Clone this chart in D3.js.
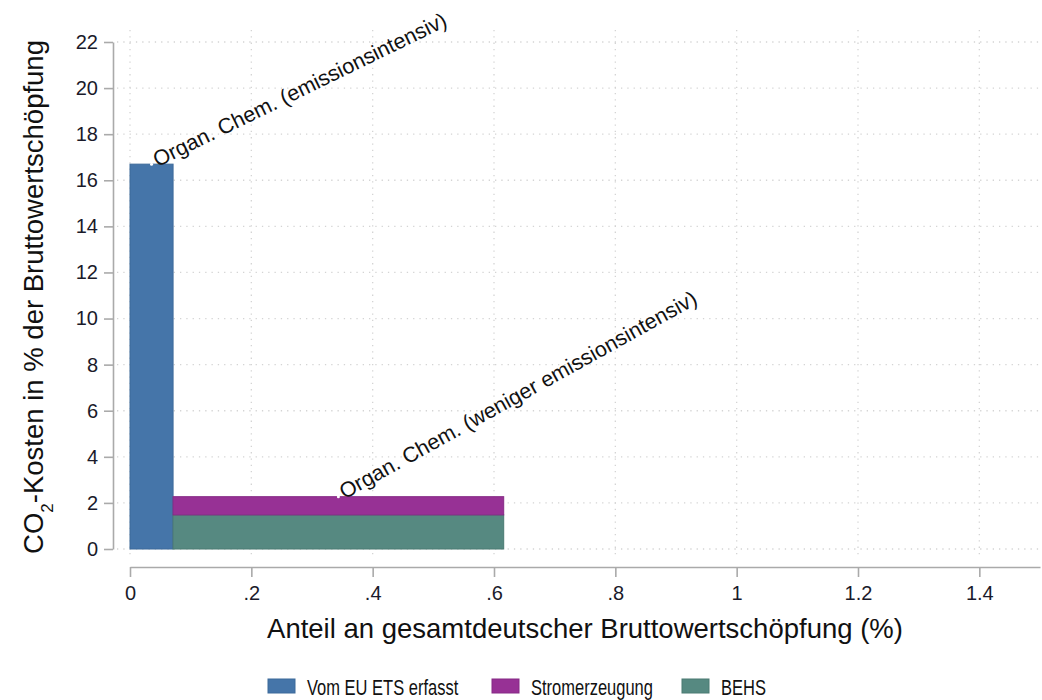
<!DOCTYPE html>
<html>
<head>
<meta charset="utf-8">
<script src="https://cdn.jsdelivr.net/npm/d3@7"></script>
<style>
  body { margin: 0; background: #fff; }
  svg { display: block; font-family: "Liberation Sans", Arial, sans-serif; }
  .grid line { stroke: #d4d4d4; stroke-width: 1.3; stroke-dasharray: 1.3 5; }
  .axis path, .axis line { stroke: #aaaaaa; stroke-width: 1.6; }
  .axis text { fill: #1a1a2a; font-size: 20px; }
  .bar-label { font-size: 21.5px; fill: #111; }
  .legend-label { font-size: 22px; fill: #111; }
</style>
</head>
<body>
<svg id="chart" width="1042" height="700"></svg>
<script>
// Sektoren (Breite = Anteil an der BWS, Höhe = CO2-Kosten in % der BWS)
var sectors = ["Organ. Chem. (emissionsintensiv)", "Organ. Chem. (weniger emissionsintensiv)"]
var shares = [0.071, 0.545]
var etsCost = [16.7, 0]
var behsCost = [0, 1.48]
var stromCost = [0, 0.79]

var seriesNames = ["Vom EU ETS erfasst", "Stromerzeugung", "BEHS"]
var seriesColors = ["#4575a9", "#973195", "#568981"]
var seriesStroke = ["#3d6a9a", "#862a85", "#4b7a72"]

var yTicks = [0, 2, 4, 6, 8, 10, 12, 14, 16, 18, 20, 22]
var xTicks = [0, 0.2, 0.4, 0.6, 0.8, 1, 1.2, 1.4]

// label angles as drawn in the original
const LABEL_ANGLE = [-26, -29]

var svg = d3.select("#chart")

var x = d3.scaleLinear().domain([0, 1.5]).range([130, 1040])
var y = d3.scaleLinear().domain([0, 22]).range([549, 42])

// bar positions from cumulative shares
var ends = Array.from(d3.cumsum(shares))
var bars = sectors.map(function(s, i) {
    return {
        name: s,
        x0: ends[i] - shares[i],
        x1: ends[i],
        ets: etsCost[i],
        behs: behsCost[i],
        strom: stromCost[i],
        total: etsCost[i] + behsCost[i] + stromCost[i]
    }
})

var fmt = function(d) {
    if (d === 0) return "0"
    var s = d3.format("")(+d.toFixed(1))
    return s.replace(/^0\./, ".")
}

// gridlines
var grid = svg.append("g").attr("class", "grid")
grid.selectAll(".h").data(yTicks).enter()
    .append("line")
    .attr("x1", 117).attr("x2", 1040)
    .attr("y1", d => y(d)).attr("y2", d => y(d))
grid.selectAll(".v").data(xTicks).enter()
    .append("line")
    .attr("y1", 30).attr("y2", 557)
    .attr("x1", d => x(d)).attr("x2", d => x(d))

// stacked segments: ETS, BEHS, Strom
var layers = [
    { key: "ets", color: 0 },
    { key: "behs", color: 2 },
    { key: "strom", color: 1 }
]
var segs = []
bars.forEach(function(b) {
    var base = 0
    layers.forEach(function(l) {
        if (b[l.key] > 0) {
            segs.push({ x0: b.x0, x1: b.x1, y0: base, y1: base + b[l.key], c: l.color })
            base += b[l.key]
        }
    })
})

svg.append("g").selectAll("rect")
    .data(segs).enter()
    .append("rect")
    .attr("x", d => x(d.x0))
    .attr("width", d => x(d.x1) - x(d.x0))
    .attr("y", d => y(d.y1))
    .attr("height", d => y(d.y0) - y(d.y1))
    .style("fill", d => seriesColors[d.c])
    .style("stroke", d => seriesStroke[d.c])
    .style("stroke-width", 1)

// axes
svg.append("g")
    .attr("class", "axis")
    .attr("transform", "translate(113,0)")
    .call(d3.axisLeft(y).tickValues(yTicks).tickSize(9).tickSizeOuter(0).tickPadding(6))

svg.append("g")
    .attr("class", "axis")
    .attr("transform", "translate(0,567)")
    .call(d3.axisBottom(x).tickValues(xTicks).tickFormat(fmt).tickSize(10).tickSizeOuter(0).tickPadding(9))

// bar labels
var lab = svg.append("g")
lab.selectAll("circle").data(bars).enter()
    .append("circle")
    .attr("cx", d => x((d.x0 + d.x1) / 2))
    .attr("cy", d => y(d.total))
    .attr("r", 1.5)
    .style("fill", "#fff")

lab.selectAll("text").data(bars).enter()
    .append("text")
    .attr("class", "bar-label")
    .attr("transform", (d, i) => "translate(" + x((d.x0 + d.x1) / 2) + "," + y(d.total) + ") rotate(" + LABEL_ANGLE[i] + ")")
    .attr("x", 4)
    .attr("dy", "0.25em")
    .text(d => d.name)

// axis titles
svg.append("text")
    .attr("transform", "translate(43,297) rotate(-90)")
    .style("text-anchor", "middle")
    .style("font-size", "27.5px")
    .style("fill", "#111")
    .html("CO<tspan baseline-shift='sub' font-size='17px'>2</tspan>-Kosten in % der Bruttowertschöpfung")

svg.append("text")
    .attr("x", 585).attr("y", 638)
    .style("text-anchor", "middle")
    .style("font-size", "27.5px")
    .style("fill", "#111")
    .text("Anteil an gesamtdeutscher Bruttowertschöpfung (%)")

// legend
var legX = [268, 492, 682]
var leg = svg.append("g").selectAll("g")
    .data(seriesNames).enter()
    .append("g")
    .attr("transform", (d, i) => "translate(" + legX[i] + ",679)")
leg.append("rect")
    .attr("width", 27).attr("height", 14)
    .style("fill", (d, i) => seriesColors[i])
    .style("stroke", (d, i) => seriesStroke[i])
leg.append("text")
    .attr("class", "legend-label")
    .attr("transform", "translate(39,16) scale(0.75,1)")
    .text(d => d)
</script>
</body>
</html>
